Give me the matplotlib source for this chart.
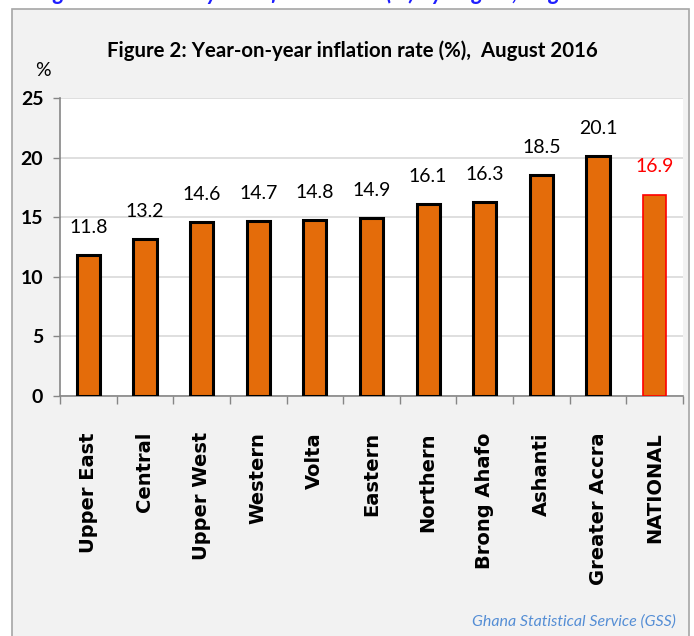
import matplotlib.pyplot as plt
from matplotlib.patches import Rectangle
import numpy as np

regions = ['Upper East', 'Central', 'Upper West', 'Western', 'Volta', 'Eastern',
           'Northern', 'Brong Ahafo', 'Ashanti', 'Greater Accra', 'NATIONAL']
rates = [11.8, 13.2, 14.6, 14.7, 14.8, 14.9, 16.1, 16.3, 18.5, 20.1, 16.9]
y_ticks = [0, 5, 10, 15, 20, 25]

cal = 'Lato'
orange = '#E46C0A'
fig = plt.figure(figsize=(6.94, 6.36), dpi=100, facecolor='white')

# outer chart frame
fig.patches.append(Rectangle((12 / 694, -0.01), 677 / 694, 1 - 9 / 636 + 0.01,
                             transform=fig.transFigure, facecolor='#f2f2f2',
                             edgecolor='#a6a6a6', linewidth=1.2, zorder=-5))

ax = fig.add_axes([60 / 694, 1 - 396 / 636, 623 / 694, 298 / 636])
ax.set_facecolor('white')

x = np.arange(len(regions))
edges = ['black'] * (len(regions) - 1) + ['red']
widths = [2.2] * (len(regions) - 1) + [1.2]
ax.bar(x, rates, width=0.41, color=orange, edgecolor=edges, linewidth=widths, zorder=3)

for i, v in enumerate(rates):
    ax.text(i, v + 1.6, f'{v:.1f}', ha='center', va='bottom', fontsize=14,
            family=cal, color='red' if regions[i] == 'NATIONAL' else 'black')

ax.set_xlim(-0.5, len(regions) - 0.5)
ax.set_ylim(0, 25)
ax.set_yticks(y_ticks)
ax.set_yticklabels([str(t) for t in y_ticks], fontsize=14, fontweight='bold', family=cal)
ax.yaxis.grid(True, color='#d9d9d9', linewidth=1.2, zorder=0)
ax.set_axisbelow(True)

ax.set_xticks(x)
ax.set_xticklabels(regions, rotation=90, fontsize=14, fontweight='bold', va='top')
ax.set_xticks(np.arange(len(regions) + 1) - 0.5, minor=True)
ax.tick_params(axis='x', which='major', length=0, pad=26)
ax.tick_params(axis='x', which='minor', length=6, color='#868686', width=1)
ax.tick_params(axis='y', length=5, color='#868686', width=1, pad=7)

for s in ['top', 'right']:
    ax.spines[s].set_visible(False)
for s in ['left', 'bottom']:
    ax.spines[s].set_color('#868686')
    ax.spines[s].set_linewidth(1.2)

fig.text(352 / 694, 1 - 51 / 636, 'Figure 2: Year-on-year inflation rate (%),  August 2016',
         ha='center', va='center', fontsize=14.7, fontweight='bold', family=cal)
fig.text(43 / 694, 1 - 70 / 636, '%', ha='center', va='center', fontsize=14, family=cal)
fig.text(676 / 694, 1 - 622 / 636, 'Ghana Statistical Service (GSS)', ha='right', va='center',
         fontsize=11.5, style='italic', family=cal, color='#558ED5')
fig.text(0.49, 1.0, 'Figure 3: Year-on-year Inflation Rate (%) by Region, August 2016',
         ha='center', va='baseline', fontsize=16, fontweight='bold', style='italic',
         family=cal, color='#1f1fff')

fig.savefig('out.png', dpi=100, facecolor=fig.get_facecolor())
